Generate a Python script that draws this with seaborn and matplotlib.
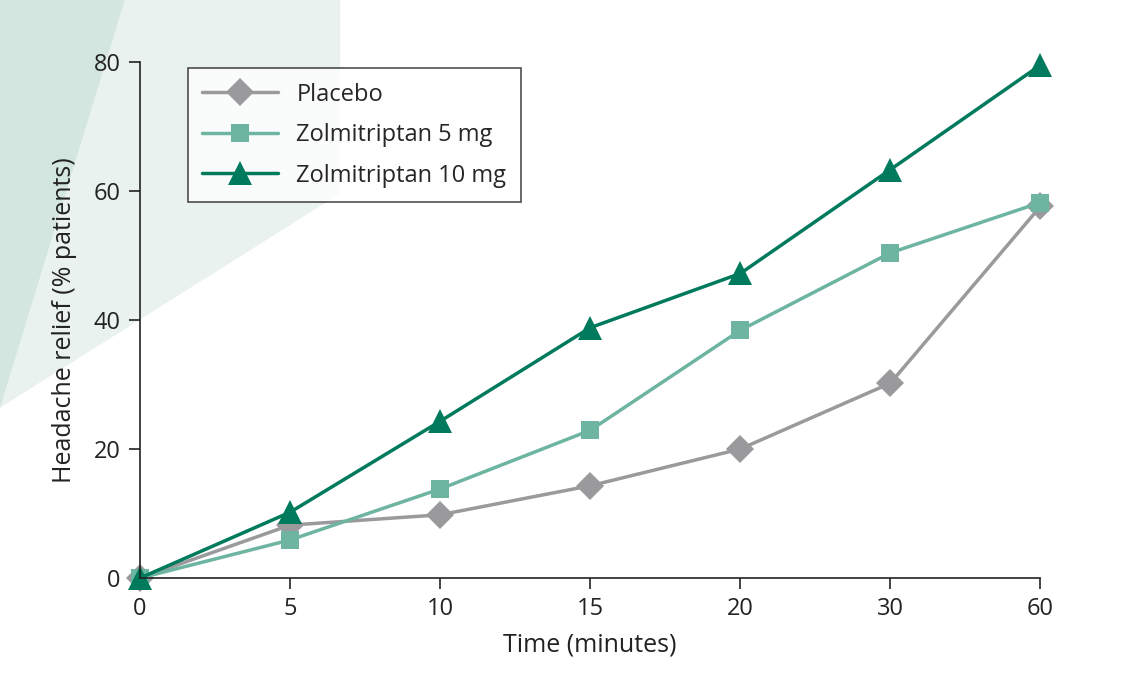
import matplotlib
matplotlib.use("Agg")
import matplotlib.pyplot as plt
import seaborn as sns
import pandas as pd
from matplotlib.patches import Polygon

times = ["0", "5", "10", "15", "20", "30", "60"]
placebo = [0, 8.2, 9.8, 14.3, 20.0, 30.2, 57.6]
zolmi5 = [0, 5.9, 13.8, 22.9, 38.4, 50.4, 58.2]
zolmi10 = [0, 10.2, 24.3, 38.8, 47.2, 63.3, 79.5]
series = ["Placebo", "Zolmitriptan 5 mg", "Zolmitriptan 10 mg"]

rows = []
for name, vals in zip(series, [placebo, zolmi5, zolmi10]):
    for i, (t, v) in enumerate(zip(times, vals)):
        rows.append({"pos": i, "time": t, "value": v, "series": name})
df = pd.DataFrame(rows)

sns.set_theme(style="ticks")
plt.rcParams['font.family'] = ['Open Sans', 'DejaVu Sans']

fig = plt.figure(figsize=(11.34, 6.91), dpi=100)
fig.add_artist(Polygon([[0.11, 1], [0.3, 1], [0.3, 0.72], [0.0, 0.41], [0.0, 1]], closed=True,
                       transform=fig.transFigure, facecolor="#e9f2ee", edgecolor="none", zorder=-2))
fig.add_artist(Polygon([[0, 1], [0.11, 1], [0.0, 0.41]], closed=True,
                       transform=fig.transFigure, facecolor="#d3e6df", edgecolor="none", zorder=-1))
ax = fig.add_axes([0.1235, 0.1635, 0.794, 0.747])
ax.set_zorder(1)
ax.patch.set_alpha(0)

palette = {"Placebo": "#9a9a9c", "Zolmitriptan 5 mg": "#6db5a1", "Zolmitriptan 10 mg": "#007a5c"}
markers = {"Placebo": "D", "Zolmitriptan 5 mg": "s", "Zolmitriptan 10 mg": "^"}
sizes = {"Placebo": 14, "Zolmitriptan 5 mg": 13, "Zolmitriptan 10 mg": 17}
for name in series:
    d = df[df.series == name]
    sns.lineplot(data=d, x="pos", y="value", ax=ax, color=palette[name], marker=markers[name],
                 markersize=sizes[name], markeredgewidth=0, linewidth=2.5, label=name, clip_on=False)

ax.set_xlim(0, 6)
ax.set_ylim(0, 80)
ax.set_xticks(range(len(times)))
ax.set_xticklabels(times)
ax.set_yticks([0, 20, 40, 60, 80])
ax.tick_params(labelsize=17, length=8, width=1.2, colors="#222222", pad=6)
ax.spines["top"].set_visible(False)
ax.spines["right"].set_visible(False)
for s in ["left", "bottom"]:
    ax.spines[s].set_linewidth(1.2)
    ax.spines[s].set_color("#222222")
ax.set_xlabel("Time (minutes)", fontsize=18, color="#222222", labelpad=8)
ax.set_ylabel("Headache relief (% patients)", fontsize=18, color="#222222", labelpad=12)
leg = ax.legend(loc="upper left", bbox_to_anchor=(0.04, 1.01), fontsize=17, frameon=True,
                fancybox=False, edgecolor="#222222", handlelength=3.2, borderpad=0.6, labelspacing=0.7)
leg.get_frame().set_linewidth(1.2)
leg.get_frame().set_facecolor("white")
fig.savefig("out.png", dpi=100)
